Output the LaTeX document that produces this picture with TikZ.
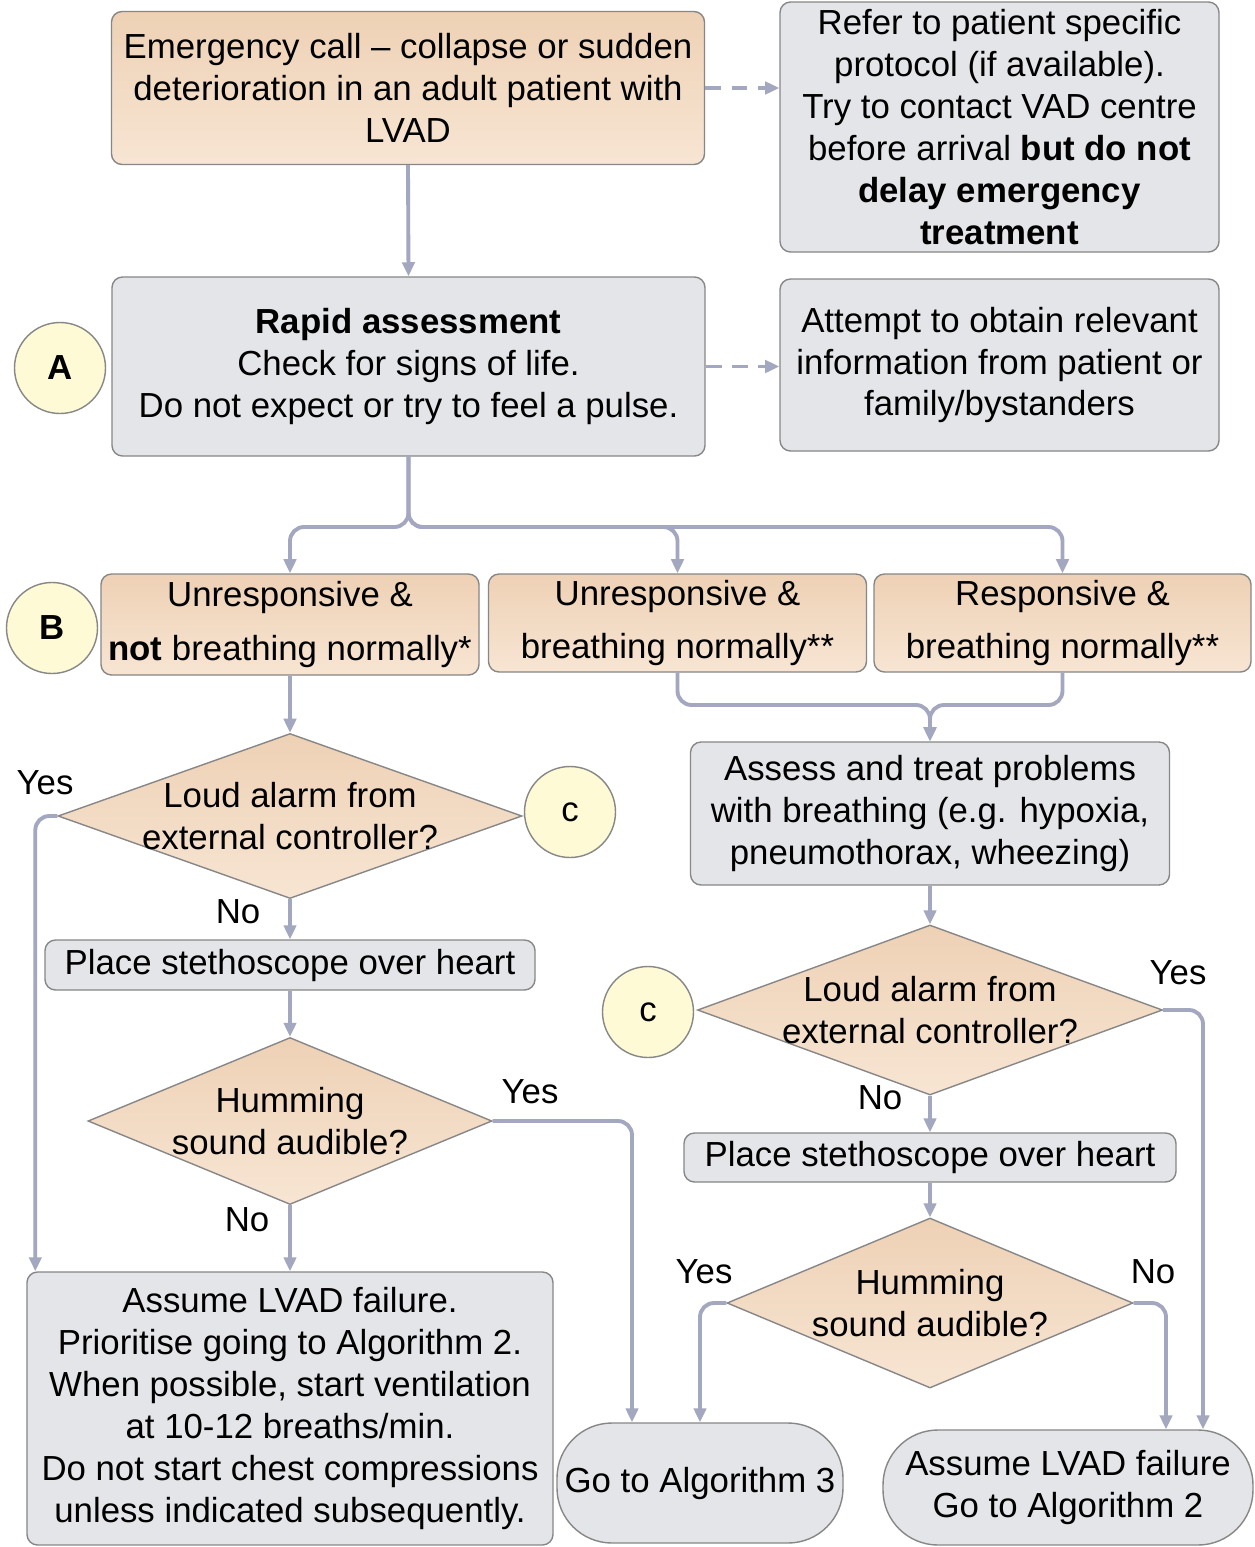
\documentclass[tikz,border=0pt]{standalone}
\usepackage{fontspec}
\setmainfont{Liberation Sans}
\usetikzlibrary{shapes.geometric, arrows.meta}

\definecolor{peachtop}{RGB}{238,209,181}
\definecolor{peachbot}{RGB}{247,229,211}
\definecolor{greyfill}{RGB}{228,229,232}
\definecolor{boxline}{RGB}{135,135,135}
\definecolor{flowline}{RGB}{163,167,192}
\definecolor{circfill}{RGB}{255,250,214}

\begin{document}
\begin{tikzpicture}[
    >={Triangle[length=8pt, width=7pt]},
    font=\fontsize{19.8}{23.8}\selectfont,
    box/.style={rectangle, rounded corners=6pt, draw=boxline, line width=0.8pt, align=center, inner sep=0pt},
    peach/.style={box, top color=peachtop, bottom color=peachbot},
    grey/.style={box, fill=greyfill},
    pill/.style={grey, rounded corners=1.1cm},
    decision/.style={diamond, draw=boxline, line width=0.8pt, top color=peachtop, bottom color=peachbot, inner sep=0pt},
    marker/.style={circle, draw=boxline, line width=0.8pt, fill=circfill, minimum size=1.82cm, inner sep=0pt},
    flow/.style={->, draw=flowline, line width=2.2pt, rounded corners=8pt},
    hint/.style={flow, dash pattern=on 9pt off 6pt},
]
    \path[use as bounding box, fill=white] (0,0) rectangle (25.08,-30.94);

    % top row
    \node[peach, minimum width=11.86cm, minimum height=3.06cm] (emerg) at (8.16,-1.76)
        {Emergency call -- collapse or sudden\\deterioration in an adult patient with\\LVAD};
    \node[grey, minimum width=8.78cm, minimum height=5.0cm] (refer) at (19.99,-2.54)
        {Refer to patient specific\\protocol (if available).\\Try to contact VAD centre\\before arrival \textbf{but do not}\\\textbf{delay emergency}\\\textbf{treatment}};

    \node[grey, minimum width=11.86cm, minimum height=3.58cm] (rapid) at (8.17,-7.33)
        {\textbf{Rapid assessment}\\Check for signs of life.\\Do not expect or try to feel a pulse.};
    \node[grey, minimum width=8.78cm, minimum height=3.44cm] (attempt) at (19.99,-7.30)
        {Attempt to obtain relevant\\information from patient or\\family/bystanders};
    \node[marker] (markA) at (1.2,-7.36) {\textbf{A}};

    % B row
    \node[peach, minimum width=7.56cm, minimum height=2.02cm] (b1) at (5.8,-12.49)
        {Unresponsive \&\\[0.24cm]\textbf{not} breathing normally*};
    \node[peach, minimum width=7.56cm, minimum height=1.96cm] (b2) at (13.55,-12.46)
        {Unresponsive \&\\[0.24cm]breathing normally**};
    \node[peach, minimum width=7.54cm, minimum height=1.96cm] (b3) at (21.25,-12.46)
        {Responsive \&\\[0.24cm]breathing normally**};
    \node[marker] (markB) at (1.04,-12.56) {\textbf{B}};

    % left column
    \node[decision, minimum width=9.28cm, minimum height=3.3cm] (alarm1) at (5.8,-16.32) {};
    \node[align=center] (alarm1txt) at (alarm1) {Loud alarm from\\external controller?};
    \node[marker] (markC1) at (11.4,-16.24) {c};
    \node[grey, minimum width=9.8cm, minimum height=1.0cm] (steth1) at (5.8,-19.3)
        {Place stethoscope over heart};
    \node[decision, minimum width=8.08cm, minimum height=3.34cm] (hum1) at (5.8,-22.42) {};
    \node[align=center] (hum1txt) at (hum1) {Humming\\sound audible?};
    \node[grey, minimum width=10.52cm, minimum height=5.46cm] (fail) at (5.8,-28.17)
        {Assume LVAD failure.\\Prioritise going to Algorithm 2.\\When possible, start ventilation\\at 10-12 breaths/min.\\Do not start chest compressions\\unless indicated subsequently.};
    \node[pill, minimum width=5.72cm, minimum height=2.4cm] (go3) at (14.0,-29.66)
        {Go to Algorithm 3};

    % right column
    \node[grey, minimum width=9.58cm, minimum height=2.86cm] (assess) at (18.6,-16.27)
        {Assess and treat problems\\with breathing (e.g. hypoxia,\\pneumothorax, wheezing)};
    \node[decision, minimum width=9.3cm, minimum height=3.4cm] (alarm2) at (18.6,-20.2) {};
    \node[align=center] (alarm2txt) at (alarm2) {Loud alarm from\\external controller?};
    \node[marker] (markC2) at (12.96,-20.24) {c};
    \node[grey, minimum width=9.84cm, minimum height=0.98cm] (steth2) at (18.6,-23.15)
        {Place stethoscope over heart};
    \node[decision, minimum width=8.12cm, minimum height=3.4cm] (hum2) at (18.6,-26.06) {};
    \node[align=center] (hum2txt) at (hum2) {Humming\\sound audible?};
    \node[pill, minimum width=7.4cm, minimum height=2.3cm] (assume2) at (21.36,-29.75)
        {Assume LVAD failure\\Go to Algorithm 2};

    % yes / no labels
    \node (yes1) at (0.9,-15.66) {Yes};
    \node (no1) at (4.76,-18.24) {No};
    \node (yes2) at (10.6,-21.84) {Yes};
    \node (no2) at (4.94,-24.4) {No};
    \node (yes3) at (23.56,-19.46) {Yes};
    \node (no3) at (17.6,-21.96) {No};
    \node (yes4) at (14.08,-25.44) {Yes};
    \node (no4) at (23.06,-25.44) {No};

    % connectors
    \draw[hint] (emerg.east) -- (emerg.east -| refer.west);
    \draw[hint] (rapid.east) -- (rapid.east -| attempt.west);
    \draw[flow] (emerg.south) -- (rapid.north);

    \coordinate (split) at (rapid.south |- 0,-10.54);
    \draw[flow] (rapid.south) -- (split) -| (b1.north);
    \draw[flow] (rapid.south) -- (split) -| (b2.north);
    \draw[flow] (rapid.south) -- (split) -| (b3.north);

    \coordinate (merge) at (assess.north |- 0,-14.1);
    \draw[flow] (b2.south) |- (merge) -- (assess.north);
    \draw[flow] (b3.south) |- (merge) -- (assess.north);

    \draw[flow] (b1.south) -- (alarm1.north);
    \draw[flow] (alarm1.south) -- (steth1.north);
    \draw[flow] (steth1.south) -- (hum1.north);
    \draw[flow] (hum1.south) -- (fail.north);
    \draw[flow] (alarm1.west) -| ([xshift=0.18cm]fail.north west);
    \draw[flow] (hum1.east) -| ([xshift=-1.36cm]go3.north);

    \draw[flow] (assess.south) -- (alarm2.north);
    \draw[flow] (alarm2.south) -- (steth2.north);
    \draw[flow] (steth2.south) -- (hum2.north);
    \draw[flow] (hum2.west) -| (go3.north);
    \draw[flow] (hum2.east) -| ([xshift=1.96cm]assume2.north);
    \draw[flow] (alarm2.east) -| ([xshift=2.7cm]assume2.north);
\end{tikzpicture}
\end{document}
